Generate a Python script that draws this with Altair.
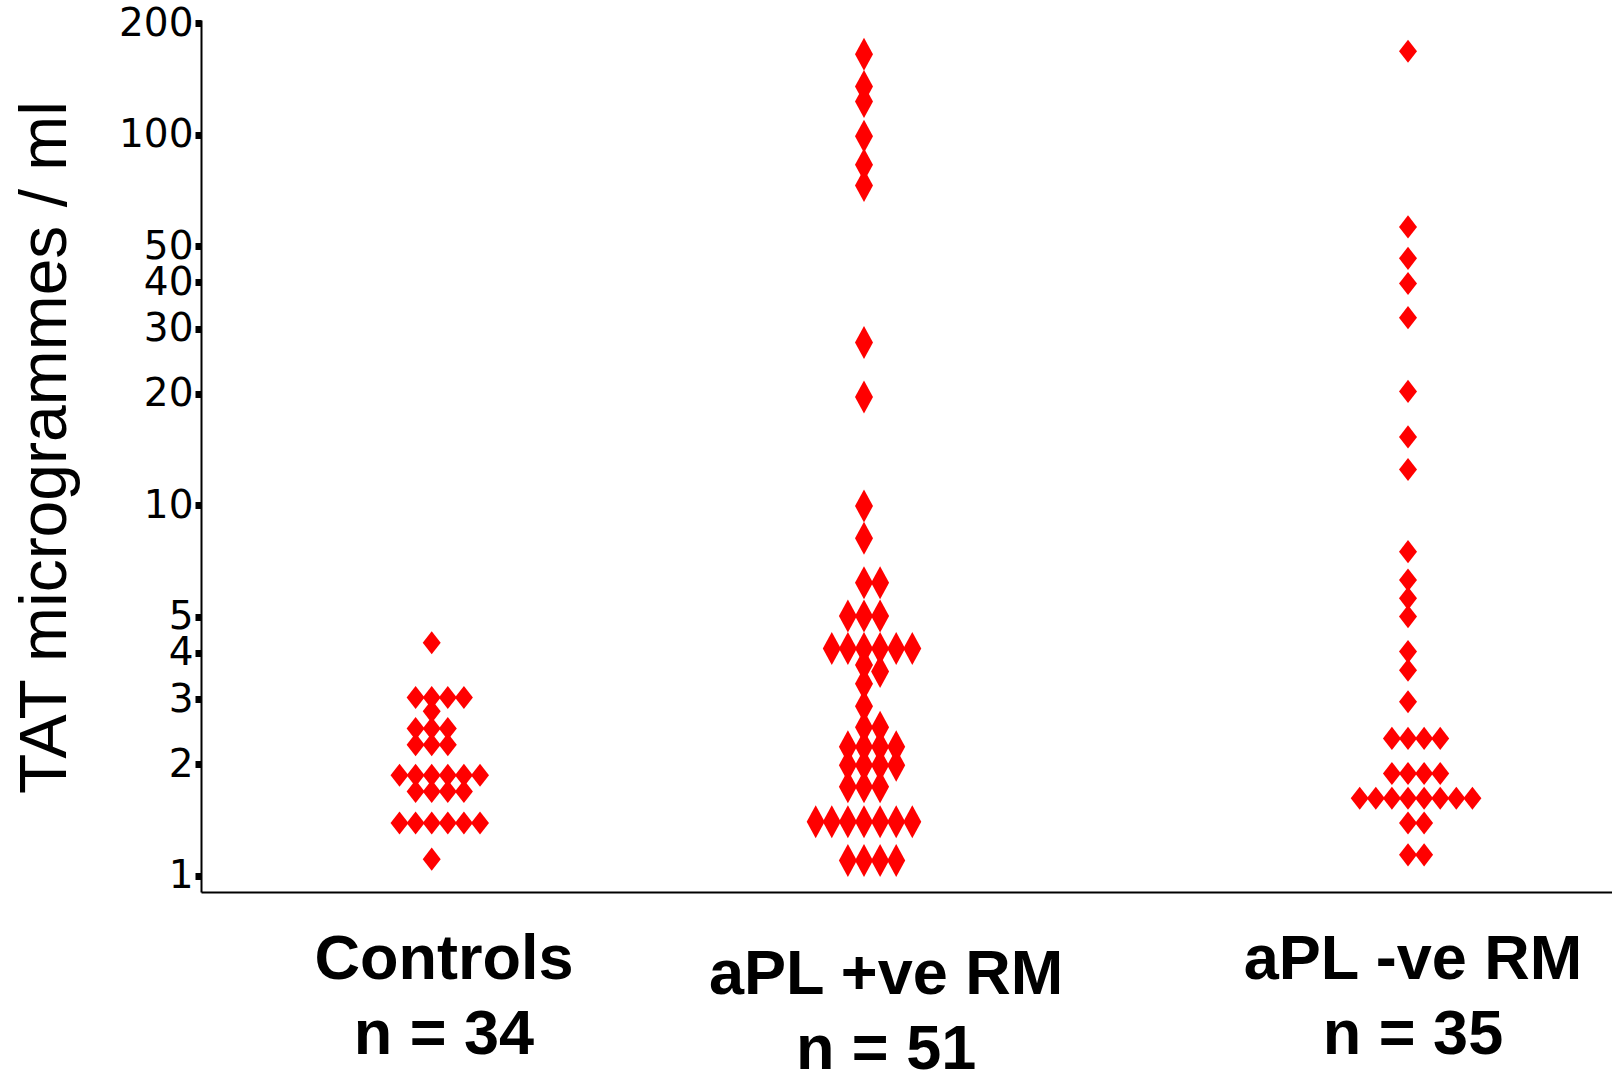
import altair as alt
import pandas as pd

# ---------------- data ----------------
groups = ["Controls", "aPL +ve RM", "aPL -ve RM"]
n_labels = ["n = 34", "n = 51", "n = 35"]

controls_values = [4.26,
                   3.03, 3.03, 3.03, 3.03,
                   2.78,
                   2.50, 2.50, 2.50,
                   2.26, 2.26, 2.26,
                   1.87, 1.87, 1.87, 1.87, 1.87, 1.87,
                   1.69, 1.69, 1.69, 1.69,
                   1.39, 1.39, 1.39, 1.39, 1.39, 1.39,
                   1.11]
controls_columns = [0,
                    -1, 0, 1, 2,
                    0,
                    -1, 0, 1,
                    -1, 0, 1,
                    -2, -1, 0, 1, 2, 3,
                    -1, 0, 1, 2,
                    -2, -1, 0, 1, 2, 3,
                    0]

apl_pos_values = [165, 135, 123, 99, 83, 73, 27.5, 19.6, 9.96, 8.15,
                  6.18, 6.18,
                  5.03, 5.03, 5.03,
                  4.11, 4.11, 4.11, 4.11, 4.11, 4.11,
                  3.71, 3.56, 3.30, 2.87,
                  2.52, 2.52,
                  2.23, 2.23, 2.23, 2.23,
                  1.99, 1.99, 1.99, 1.99,
                  1.74, 1.74, 1.74,
                  1.40, 1.40, 1.40, 1.40, 1.40, 1.40, 1.40,
                  1.10, 1.10, 1.10, 1.10]
apl_pos_columns = [0, 0, 0, 0, 0, 0, 0, 0, 0, 0,
                   0, 1,
                   -1, 0, 1,
                   -2, -1, 0, 1, 2, 3,
                   0, 1, 0, 0,
                   0, 1,
                   -1, 0, 1, 2,
                   -1, 0, 1, 2,
                   -1, 0, 1,
                   -3, -2, -1, 0, 1, 2, 3,
                   -1, 0, 1, 2]

apl_neg_values = [168, 56.4, 46.4, 39.7, 32.1, 20.3, 15.3, 12.5,
                  7.50, 6.29, 5.61, 5.01, 4.03, 3.59, 2.95,
                  2.35, 2.35, 2.35, 2.35,
                  1.89, 1.89, 1.89, 1.89,
                  1.62, 1.62, 1.62, 1.62, 1.62, 1.62, 1.62, 1.62,
                  1.39, 1.39,
                  1.14, 1.14]
apl_neg_columns = [0, 0, 0, 0, 0, 0, 0, 0,
                   0, 0, 0, 0, 0, 0, 0,
                   -1, 0, 1, 2,
                   -1, 0, 1, 2,
                   -3, -2, -1, 0, 1, 2, 3, 4,
                   0, 1,
                   0, 1]

y_ticks = [1, 2, 3, 4, 5, 10, 20, 30, 40, 50, 100, 200]

# ---------------- layout ----------------
group_centers = [14.33, 41.18, 74.97]   # in diamond-column units
label_centers = [15.09, 42.55, 75.28]
label_line1_y = [959, 974, 959]
label_line2_y = [1034, 1049, 1034]

rows = []
for g, c, vals, cols in zip(groups, group_centers,
                            [controls_values, apl_pos_values, apl_neg_values],
                            [controls_columns, apl_pos_columns, apl_neg_columns]):
    for v, k in zip(vals, cols):
        rows.append({"group": g, "value": v, "xpos": c + k})
df = pd.DataFrame(rows)

W, H = 1411, 872
xscale = alt.Scale(domain=[0, 87.64], zero=False, nice=False)
yscale = alt.Scale(type="log", domain=[0.905, 204], nice=False)

path_normal = "M0,-0.7L0.545,0L0,0.7L-0.545,0Z"
path_tall = "M0,-1L0.545,0L0,1L-0.545,0Z"

points = alt.Chart(df).mark_point(filled=True, opacity=1, size=1089,
                                  color="#FF0000", strokeWidth=0).encode(
    x=alt.X("xpos:Q", scale=xscale,
            axis=alt.Axis(title=None, labels=False, ticks=False, grid=False,
                          domainColor="black", domainWidth=2)),
    y=alt.Y("value:Q", scale=yscale,
            axis=alt.Axis(values=y_ticks, title="TAT microgrammes / ml",
                          grid=False, labelOverlap=False, labelFlush=False,
                          labelFont="DejaVu Sans", labelFontSize=39,
                          labelColor="black", labelPadding=2,
                          tickSize=6, tickWidth=7, tickColor="black",
                          domainColor="black", domainWidth=2,
                          titleFont="Liberation Sans", titleFontSize=66,
                          titleFontWeight="normal", titleColor="black",
                          titleAngle=270, titleAlign="center",
                          titleBaseline="alphabetic",
                          titleX=-136, titleY=427, format="d")),
    shape=alt.Shape("group:N",
                    scale=alt.Scale(domain=groups,
                                    range=[path_normal, path_tall, path_normal]),
                    legend=None),
)

layers = [points]
for g, n, lx, y1, y2 in zip(groups, n_labels, label_centers, label_line1_y, label_line2_y):
    ldf = pd.DataFrame({"lx": [lx], "t1": [g], "t2": [n]})
    base = alt.Chart(ldf)
    layers.append(base.mark_text(font="Liberation Sans", fontSize=63,
                                 fontWeight="bold", align="center",
                                 baseline="alphabetic", color="black").encode(
        x=alt.X("lx:Q", scale=xscale), y=alt.value(y1), text="t1:N"))
    layers.append(base.mark_text(font="Liberation Sans", fontSize=63,
                                 fontWeight="bold", align="center",
                                 baseline="alphabetic", color="black").encode(
        x=alt.X("lx:Q", scale=xscale), y=alt.value(y2), text="t2:N"))

chart = alt.layer(*layers).properties(
    width=W, height=H,
    autosize=alt.AutoSizeParams(type="none"),
    padding={"left": 201, "top": 20, "right": 0, "bottom": 179},
    background="white",
).configure_view(stroke=None)

chart.save("out.html", embed_options={"renderer": "svg", "actions": False})
